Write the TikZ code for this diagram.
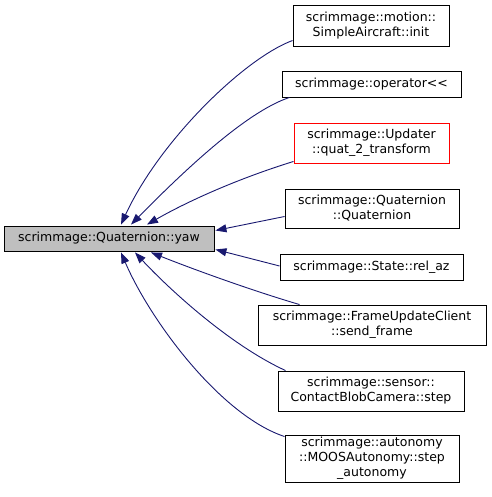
\documentclass[tikz,border=0pt]{standalone}
\usepackage{fontspec}
\setmainfont{DejaVu Sans}
\usepackage{tikz}
\usetikzlibrary{positioning, arrows.meta, calc}

\definecolor{edgeblue}{HTML}{191970}

\begin{document}
\begin{tikzpicture}[
    x=1pt, y=-1pt,
    font=\fontsize{12.5}{15}\selectfont,
    fn/.style={draw=black, fill=white, align=center, inner sep=0pt, line width=0.9pt},
    call/.style={edgeblue, line width=0.9pt, -{Triangle[length=11pt, width=8pt]}}
]
\useasboundingbox (0,0) rectangle (491,497);

% Called function
\node[fn, fill=black!25, minimum width=210pt, minimum height=25pt] (yaw) at (109,238.5) {scrimmage::Quaternion::yaw};

% Callers
\node[fn, minimum width=156pt, minimum height=41pt] (init) at (371,25.5) {scrimmage::motion::\\SimpleAircraft::init};
\node[fn, minimum width=179pt, minimum height=26pt] (oper) at (371.5,84) {scrimmage::operator<{}<};
\node[fn, draw=red, minimum width=155pt, minimum height=40pt] (quat2) at (371.5,143) {scrimmage::Updater\\::quat\_2\_transform};
\node[fn, minimum width=174pt, minimum height=39pt] (quatc) at (372,208.5) {scrimmage::Quaternion\\::Quaternion};
\node[fn, minimum width=183pt, minimum height=26pt] (relaz) at (371.5,267) {scrimmage::State::rel\_az};
\node[fn, minimum width=228pt, minimum height=40pt] (frame) at (372,325) {scrimmage::FrameUpdateClient\\::send\_frame};
\node[fn, minimum width=186pt, minimum height=40pt] (blob) at (371,391) {scrimmage::sensor::\\ContactBlobCamera::step};
\node[fn, minimum width=174pt, minimum height=47pt] (moos) at (372,458.5) {scrimmage::autonomy\\::MOOSAutonomy::step\\\_autonomy};

% Call edges
\draw[call] ($(init.west)+(0,15)$) .. controls (245,58) and (160,140) .. ($(yaw.north)+(12,-1)$);
\draw[call] ($(oper.south west)+(8,0)$) .. controls (245,112) and (180,175) .. ($(yaw.north)+(22,-1)$);
\draw[call] ($(quat2.south west)+(0,-2)$) .. controls (240,178) and (190,200) .. ($(yaw.north)+(38,-1)$);
\draw[call] ($(quatc.west)+(0,8)$) -- ($(yaw.east)+(1,-8)$);
\draw[call] ($(relaz.west)+(0,-1)$) -- ($(yaw.east)+(1,11)$);
\draw[call] ($(frame.north west)+(42,0)$) .. controls (250,290) and (190,268) .. ($(yaw.south)+(42,1)$);
\draw[call] ($(blob.north west)+(8,0)$) .. controls (230,345) and (170,290) .. ($(yaw.south)+(26,1)$);
\draw[call] ($(moos.north west)+(0,2)$) .. controls (220,415) and (150,320) .. ($(yaw.south)+(12,1)$);

\end{tikzpicture}
\end{document}
